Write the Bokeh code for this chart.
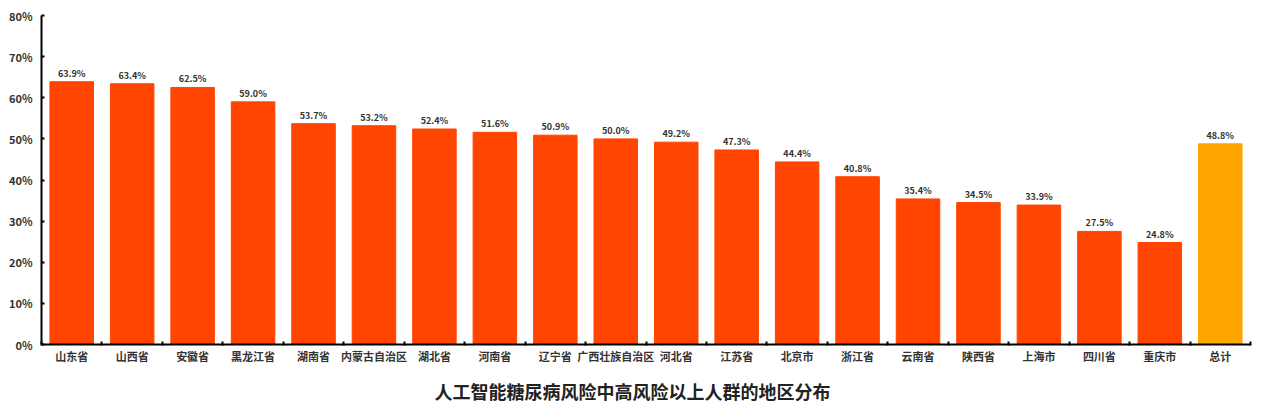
from bokeh.plotting import figure
from bokeh.models import ColumnDataSource, Range1d, FixedTicker, NumeralTickFormatter, Title, LabelSet
from bokeh.core.properties import value
from bokeh.embed import file_html
from bokeh.resources import INLINE

regions = ["山东省", "山西省", "安徽省", "黑龙江省", "湖南省", "内蒙古自治区", "湖北省", "河南省",
           "辽宁省", "广西壮族自治区", "河北省", "江苏省", "北京市", "浙江省", "云南省", "陕西省",
           "上海市", "四川省", "重庆市", "总计"]
values = [63.9, 63.4, 62.5, 59.0, 53.7, 53.2, 52.4, 51.6, 50.9, 50.0, 49.2, 47.3, 44.4, 40.8,
          35.4, 34.5, 33.9, 27.5, 24.8, 48.8]
y_ticks = [0, 0.1, 0.2, 0.3, 0.4, 0.5, 0.6, 0.7, 0.8]

FONT = "Noto Sans CJK SC"
n = len(regions)
xs = [i + 0.5 for i in range(n)]
colors = ["#FF4500"] * (n - 1) + ["#FFA500"]
src = ColumnDataSource(dict(
    x=xs, y=[v / 100 for v in values], color=colors,
    label=[f"{v:.1f}%" for v in values],
))

p = figure(width=1262, height=413, output_backend="svg", toolbar_location=None,
           x_range=Range1d(0, n), y_range=Range1d(0, 0.8),
           min_border_left=41, min_border_right=12, min_border_top=15, min_border_bottom=20)
p.outline_line_color = None
p.xgrid.grid_line_color = None
p.ygrid.grid_line_color = None
p.background_fill_color = "white"

p.vbar(x="x", top="y", width=0.72, color="color", source=src)
labels = LabelSet(x="x", y="y", text="label", source=src, text_align="center",
                  text_baseline="bottom", y_offset=2, text_font=value(FONT),
                  text_font_size="9px", text_color="#333333", text_font_style="bold")
p.add_layout(labels)

xa = p.xaxis[0]
xa.ticker = FixedTicker(ticks=xs, minor_ticks=list(range(n + 1)))
xa.major_label_overrides = {x: r for x, r in zip(xs, regions)}
xa.major_tick_line_color = None
xa.major_tick_in = 0
xa.major_tick_out = 0
xa.minor_tick_in = 3
xa.minor_tick_out = 1
xa.minor_tick_line_width = 2
xa.minor_tick_line_color = "black"
xa.axis_line_width = 2
xa.axis_line_color = "black"
xa.major_label_text_font = FONT
xa.major_label_text_font_size = "11px"
xa.major_label_text_font_style = "bold"
xa.major_label_text_color = "#333333"
xa.major_label_standoff = 2

ya = p.yaxis[0]
ya.ticker = FixedTicker(ticks=y_ticks)
ya.formatter = NumeralTickFormatter(format="0%")
ya.axis_line_width = 2
ya.axis_line_color = "black"
ya.major_tick_in = 3
ya.major_tick_out = 0
ya.major_tick_line_width = 2
ya.minor_tick_line_color = None
ya.major_label_text_font = FONT
ya.major_label_text_font_size = "11px"
ya.major_label_text_font_style = "bold"
ya.major_label_text_color = "#333333"
ya.major_label_standoff = 9

t = Title(text="人工智能糖尿病风险中高风险以上人群的地区分布", align="left",
          text_font=FONT, text_font_size="18px", text_font_style="bold",
          text_color="#222222", standoff=19, offset=393)
p.add_layout(t, "below")

open("out.html", "w").write(file_html(p, INLINE))
